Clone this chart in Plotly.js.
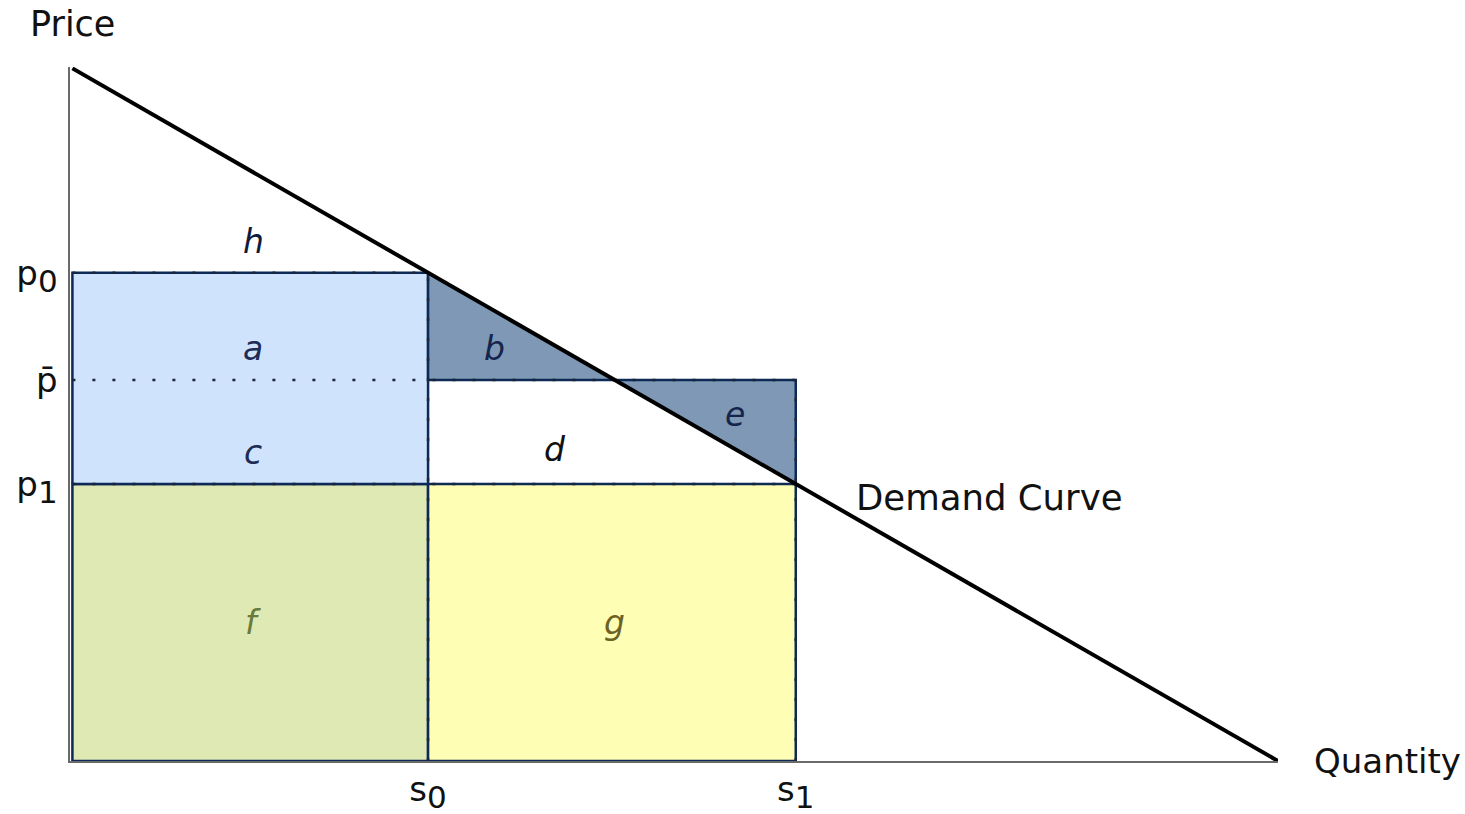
<!DOCTYPE html>
<html>
<head>
<meta charset="utf-8">
<script src="https://cdn.plot.ly/plotly-3.0.1.min.js"></script>
<style>
  html, body { margin: 0; padding: 0; background: #ffffff; }
  #chart { width: 1465px; height: 814px; }
</style>
</head>
<body>
<div id="chart"></div>
<script>
// Linear demand curve: price = 10 - quantity
const demandQuantity = [0, 10];
const demandPrice = [10, 0];

// Supply levels and prices
const s0 = 2.95;
const s1 = 6;
const p0 = 7.05;
const pBar = 5.5;
const p1 = 4;
const qAtPBar = 4.5;   // quantity where the demand curve crosses p-bar

// Axis tick labels (subscripts kept near full size)
const SUB = (base, idx) => base + '<sub><span style="font-size:31px">' + idx + '</span></sub>';
const priceTickValues = [p1, pBar, p0];
const priceTickText = [SUB('p', '1'), 'p\u0304', SUB('p', '0')];
const quantityTickValues = [s0, s1];
const quantityTickText = [SUB('s', '0'), SUB('s', '1')];

// Region labels
const regionNames = ['h', 'a', 'c', 'b', 'd', 'e', 'f', 'g'];
const regionQ = [1.5, 1.5, 1.5, 3.5, 4.0, 5.5, 1.5, 4.5];
const regionP = [7.5, 5.95, 4.45, 5.95, 4.5, 5.0, 2.0, 2.0];
const regionColors = ['#101a3a', '#1c2c55', '#1c2c55', '#14244c', '#111111', '#14244c', '#6a7a3c', '#6d6224'];

const NAVY = '#0c2a55';
const FONT = 'DejaVu Sans, Liberation Sans, sans-serif';

function area(xs, ys, fill, edge) {
  return {
    type: 'scatter', mode: 'lines', x: xs, y: ys,
    fill: 'toself', fillcolor: fill,
    line: { color: edge || NAVY, width: 2.5 },
    hoverinfo: 'skip', showlegend: false
  };
}
function dotted(xs, ys) {
  return {
    type: 'scatter', mode: 'lines', x: xs, y: ys,
    line: { color: '#1b2638', width: 2.5, dash: '3px,17px' },
    hoverinfo: 'skip', showlegend: false
  };
}

const traces = [
  // f: below p1, left of s0
  area([0, s0, s0, 0, 0], [0, 0, p1, p1, 0], '#dfe9b4'),
  // g: below p1, between s0 and s1
  area([s0, s1, s1, s0, s0], [0, 0, p1, p1, 0], '#fefeb4'),
  // a + c: between p1 and p0, left of s0
  area([0, s0, s0, 0, 0], [p1, p1, p0, p0, p1], '#d0e3fc'),
  // b: triangle under demand, above p-bar
  area([s0, s0, qAtPBar, s0], [p0, pBar, pBar, p0], '#7f98b5'),
  // e: triangle above demand, below p-bar
  area([qAtPBar, s1, s1, qAtPBar], [pBar, pBar, p1, pBar], '#7f98b5'),
  // guide lines
  dotted([0, s0], [p0, p0]),
  dotted([0, s1], [pBar, pBar]),
  dotted([0, s1], [p1, p1]),
  dotted([s0, s0], [0, p0]),
  dotted([s1, s1], [0, pBar]),
  // demand curve
  {
    type: 'scatter', mode: 'lines', x: demandQuantity, y: demandPrice,
    line: { color: '#000000', width: 4 },
    hoverinfo: 'skip', showlegend: false
  }
];

const annotations = regionNames.map((n, i) => ({
  x: regionQ[i], y: regionP[i], xref: 'x', yref: 'y',
  text: '<i>' + n + '</i>', showarrow: false,
  xanchor: 'center', yanchor: 'middle',
  font: { family: FONT, size: 33, color: regionColors[i] }
}));
annotations.push(
  { x: -0.035, y: 1.062, xref: 'paper', yref: 'paper', text: 'Price', showarrow: false,
    xanchor: 'left', yanchor: 'middle', font: { family: FONT, size: 35, color: '#111111' } },
  { x: 1.028, y: 0.0, xref: 'paper', yref: 'paper', text: 'Quantity', showarrow: false,
    xanchor: 'left', yanchor: 'middle', font: { family: FONT, size: 34, color: '#111111' } },
  { x: 6.48, y: 3.8, xref: 'x', yref: 'y', text: 'Demand Curve', showarrow: false,
    xanchor: 'left', yanchor: 'middle', font: { family: FONT, size: 35.5, color: '#111111' } }
);

const layout = {
  width: 1465, height: 814,
  margin: { l: 70, r: 187, t: 67, b: 53 },
  paper_bgcolor: '#ffffff', plot_bgcolor: '#ffffff',
  showlegend: false,
  xaxis: {
    range: [-0.02, 10], showgrid: false, zeroline: false,
    showline: true, linecolor: '#6a6a6a', linewidth: 2, layer: 'below traces',
    tickmode: 'array', tickvals: quantityTickValues, ticktext: quantityTickText,
    ticks: '', ticklabelstandoff: -3,
    tickfont: { family: FONT, size: 34, color: '#111111' }
  },
  yaxis: {
    range: [0, 10.02], showgrid: false, zeroline: false,
    showline: true, linecolor: '#6a6a6a', linewidth: 2.5, layer: 'below traces',
    tickmode: 'array', tickvals: priceTickValues, ticktext: priceTickText,
    ticks: '', ticklabelstandoff: 3,
    tickfont: { family: FONT, size: 34, color: '#111111' }
  },
  annotations: annotations
};

Plotly.newPlot('chart', traces, layout, { staticPlot: true, displayModeBar: false });
</script>
</body>
</html>
